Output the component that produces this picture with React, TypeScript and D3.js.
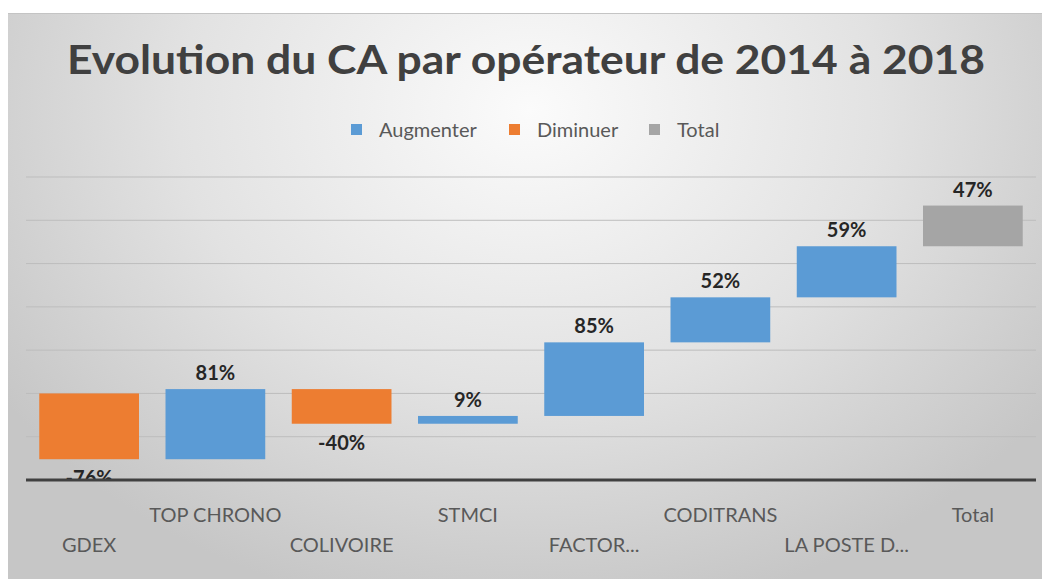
import * as d3 from "d3";
import { useMemo } from "react";

// operators, change in % and type of step
const categories = ["GDEX", "TOP CHRONO", "COLIVOIRE", "STMCI", "FACTOR...", "CODITRANS", "LA POSTE D...", "Total"];
const changes = [-76, 81, -40, 9, 85, 52, 59, 47];
const kinds = ["Diminuer", "Augmenter", "Diminuer", "Augmenter", "Augmenter", "Augmenter", "Augmenter", "Total"];
const gridTicks = [-50, 0, 50, 100, 150, 200, 250];
const legendItems = ["Augmenter", "Diminuer", "Total"];

const colors: Record<string, string> = {
  Augmenter: "#5B9BD5",
  Diminuer: "#ED7D31",
  Total: "#A5A5A5",
};

const FONT = "Lato, 'Open Sans', sans-serif";

export default function App() {
  const width = 1042;
  const height = 579;
  const plot = { left: 26, right: 1036, top: 150, axis: 480 };

  const xScale = useMemo(
    () => d3.scaleBand().domain(categories).range([plot.left, plot.right]).paddingInner(0.21).paddingOuter(0.105),
    []
  );
  const yScale = useMemo(() => d3.scaleLinear().domain([-100, 250]).range([480, 177]), []);

  // waterfall steps
  let running = 0;
  const steps = categories.map((c, i) => {
    const start = running;
    const end = running + changes[i];
    running = end;
    return { cat: c, start, end, value: changes[i], kind: kinds[i] };
  });

  const legendX = [351, 509, 649];

  return (
    <div style={{ position: "fixed", left: 0, top: 0 }}>
      <svg width={width} height={height} style={{ display: "block" }}>
        <defs>
          <radialGradient id="bg" gradientUnits="userSpaceOnUse" cx={530} cy={110} r={640} gradientTransform="translate(530,110) scale(1,0.8) translate(-530,-110)">
            <stop offset="0" stopColor="#fbfbfb" />
            <stop offset="0.55" stopColor="#e2e2e2" />
            <stop offset="1" stopColor="#c6c6c6" />
          </radialGradient>
          <clipPath id="plotClip">
            <rect x={plot.left} y={plot.top} width={plot.right - plot.left} height={plot.axis - plot.top - 1} />
          </clipPath>
        </defs>
        <rect x={0} y={0} width={width} height={height} fill="#ffffff" />
        <rect x={8} y={13} width={width - 8} height={height - 13} fill="url(#bg)" />
        <line x1={8} x2={width} y1={13.5} y2={13.5} stroke="#c4c4c4" strokeWidth={1} />

        <text x={526} y={74} textAnchor="middle" fontFamily={FONT} fontSize={41} fontWeight={700} fill="#404040" textLength={918} lengthAdjust="spacingAndGlyphs">
          Evolution du CA par opérateur de 2014 à 2018
        </text>

        {legendItems.map((item, i) => (
          <g key={item}>
            <rect x={legendX[i]} y={124} width={11} height={11} fill={colors[item]} />
            <text x={legendX[i] + 28} y={137} fontFamily={FONT} fontSize={20} fill="#595959">
              {item}
            </text>
          </g>
        ))}

        {gridTicks.map(t => (
          <line key={t} x1={plot.left} x2={plot.right} y1={yScale(t)} y2={yScale(t)} stroke="#bdbdbd" strokeWidth={1} />
        ))}

        <g clipPath="url(#plotClip)">
          {steps.map(s => {
            const top = yScale(Math.max(s.start, s.end));
            const bottom = yScale(Math.min(s.start, s.end));
            const x = xScale(s.cat)!;
            const cx = x + xScale.bandwidth() / 2;
            const down = s.value < 0;
            return (
              <g key={s.cat}>
                <rect x={x} y={top} width={xScale.bandwidth()} height={bottom - top} fill={colors[s.kind]} />
                <text
                  x={cx}
                  y={down ? bottom + 26 : top - 9}
                  textAnchor="middle"
                  fontFamily={FONT}
                  fontSize={20}
                  fontWeight={700}
                  fill="#262626"
                >
                  {s.value}%
                </text>
              </g>
            );
          })}
        </g>

        <line x1={plot.left} x2={plot.right} y1={plot.axis} y2={plot.axis} stroke="#404040" strokeWidth={3} />

        {categories.map((c, i) => (
          <text
            key={c}
            x={xScale(c)! + xScale.bandwidth() / 2}
            y={i % 2 === 0 ? 552 : 522}
            textAnchor="middle"
            fontFamily={FONT}
            fontSize={20}
            fill="#595959"
          >
            {c}
          </text>
        ))}
      </svg>
    </div>
  );
}
